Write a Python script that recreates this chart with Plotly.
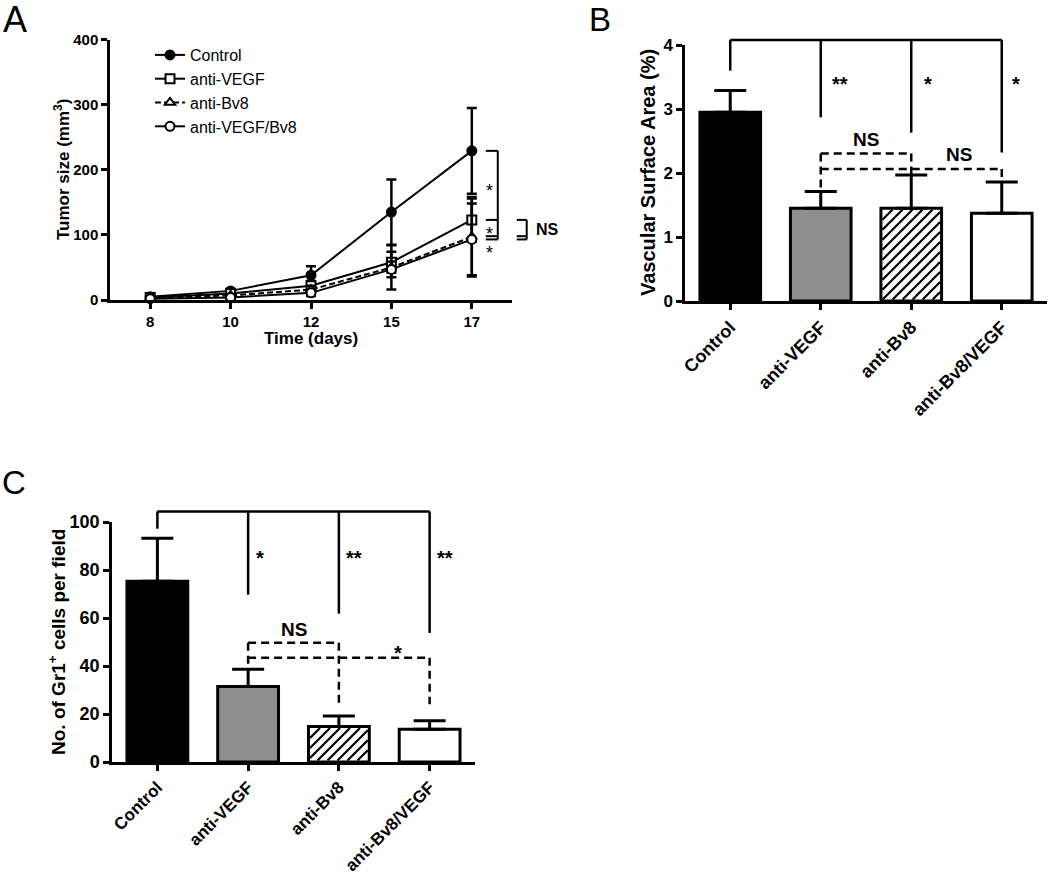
import plotly.graph_objects as go

# ---------------- Data ----------------
# Panel A: tumor growth
days = ["8", "10", "12", "15", "17"]
control_tumor = [5, 14, 38, 135, 229]
control_tumor_err = [2, 3, 14, 50, 66]
vegf_tumor = [4, 10, 22, 58, 123]
vegf_tumor_err = [2, 2, 7, 16, 33]
bv8_tumor = [3, 7, 16, 50, 97]
bv8_tumor_err = [2, 2, 6, 34, 61]
combo_tumor = [2, 4, 11, 47, 93]
combo_tumor_err = [1, 2, 5, 12, 55]
series_names = ["Control", "anti-VEGF", "anti-Bv8", "anti-VEGF/Bv8"]

# Panels B and C: bar groups
groups = ["Control", "anti-VEGF", "anti-Bv8", "anti-Bv8/VEGF"]
vsa_mean = [2.95, 1.45, 1.45, 1.37]
vsa_err = [0.34, 0.26, 0.52, 0.49]
gr1_mean = [75.3, 31.5, 14.8, 13.6]
gr1_err = [17.9, 7.1, 4.4, 3.6]

bar_colors = ["black", "#8e8e8e", "white", "white"]
bar_hatched = [False, False, True, False]
BAR_W = 0.67

FONT = "Arial, 'Liberation Sans', sans-serif"
W, H = 1050, 879


def px_x(p):
    return p / W


def px_y(p):
    return 1 - p / H


# subplot domains in pixels (left, right, top, bottom)
DOM_A = (110, 512, 39.5, 300)
DOM_B = (685, 1047, 45, 301)
DOM_C = (112, 475, 522, 762)

fig = go.Figure()

# ---------------- Panel A ----------------
styles = [
    dict(symbol="circle", color="black", dash="solid"),
    dict(symbol="square", color="white", dash="solid"),
    dict(symbol="triangle-up", color="white", dash="6px,3px"),
    dict(symbol="circle", color="white", dash="solid"),
]
a_vals = [control_tumor, vegf_tumor, bv8_tumor, combo_tumor]
a_errs = [control_tumor_err, vegf_tumor_err, bv8_tumor_err, combo_tumor_err]
for name, vals, errs, st in zip(series_names, a_vals, a_errs, styles):
    fig.add_trace(go.Scatter(
        x=days, y=vals, name=name, mode="lines+markers",
        xaxis="x", yaxis="y", cliponaxis=False,
        line=dict(color="black", width=2, dash=st["dash"]),
        marker=dict(symbol=st["symbol"], size=9, color=st["color"],
                    line=dict(color="black", width=2)),
        error_y=dict(type="data", array=errs, visible=True, color="black",
                     thickness=2.5, width=5),
    ))

# ---------------- Panels B and C ----------------
for vals, errs, xa, ya in [(vsa_mean, vsa_err, "x2", "y2"), (gr1_mean, gr1_err, "x3", "y3")]:
    fig.add_trace(go.Bar(
        x=groups, y=vals, xaxis=xa, yaxis=ya, showlegend=False, width=BAR_W,
        marker=dict(color=bar_colors, line=dict(color="black", width=3)),
        error_y=dict(type="data", array=errs, arrayminus=[0] * 4, symmetric=False,
                     color="black", thickness=3, width=16),
    ))

axis_common = dict(showline=True, linecolor="black", linewidth=2.5, ticks="outside",
                   tickcolor="black", tickwidth=2.5, ticklen=6, showgrid=False,
                   zeroline=False, fixedrange=True, automargin=False)


def dom(d):
    l, r, t, b = d
    return dict(x=[px_x(l), px_x(r)], y=[px_y(b), px_y(t)])


fig.update_layout(
    width=W, height=H, margin=dict(l=0, r=0, t=0, b=0, autoexpand=False),
    paper_bgcolor="white", plot_bgcolor="white",
    font=dict(family=FONT, color="black"),
    xaxis=dict(domain=dom(DOM_A)["x"], anchor="y", type="category",
               range=[-0.5, 4.5], tickfont=dict(size=15, weight="bold"), **axis_common),
    yaxis=dict(domain=dom(DOM_A)["y"], anchor="x", range=[0, 400],
               tickvals=[0, 100, 200, 300, 400], tickfont=dict(size=15, weight="bold"),
               **axis_common),
    xaxis2=dict(domain=dom(DOM_B)["x"], anchor="y2", type="category",
                range=[-0.5, 3.5], tickangle=-45, tickfont=dict(size=18, weight="bold"),
                **axis_common),
    yaxis2=dict(domain=dom(DOM_B)["y"], anchor="x2", range=[0, 4],
                tickvals=[0, 1, 2, 3, 4], tickfont=dict(size=17, weight="bold"),
                **axis_common),
    xaxis3=dict(domain=dom(DOM_C)["x"], anchor="y3", type="category",
                range=[-0.5, 3.5], tickangle=-45, tickfont=dict(size=17, weight="bold"),
                **axis_common),
    yaxis3=dict(domain=dom(DOM_C)["y"], anchor="x3", range=[0, 100],
                tickvals=[0, 20, 40, 60, 80, 100], tickfont=dict(size=18, weight="bold"),
                **axis_common),
    legend=dict(x=px_x(150), y=px_y(38), xanchor="left", yanchor="top",
                font=dict(size=16, family=FONT), bgcolor="rgba(0,0,0,0)",
                tracegroupgap=0, itemwidth=30),
)

shapes = []
annotations = []


def line(xa, ya, n, vmax, x0, y0, x1, y1, dash=None, width=2.5):
    shapes.append(dict(
        type="line", xref=f"{xa} domain", yref=f"{ya} domain",
        x0=(x0 + 0.5) / n, x1=(x1 + 0.5) / n, y0=y0 / vmax, y1=y1 / vmax,
        line=dict(color="black", width=width, dash=dash)))


def text(xa, ya, n, vmax, x, y, s, size, bold=True, xanchor="center", yshift=0):
    annotations.append(dict(
        xref=f"{xa} domain", yref=f"{ya} domain", x=(x + 0.5) / n, y=y / vmax,
        text=s, showarrow=False, xanchor=xanchor, yanchor="middle", yshift=yshift,
        font=dict(size=size, family=FONT, weight="bold" if bold else "normal")))


def hatch(xa, ya, d, n, vmax, i, value, spacing=10, inset=1.5):
    """Diagonal '/' hatching inside bar i (drawn as shapes in domain coords)."""
    l, r, t, b = d
    wpx, hpx = r - l, b - t
    x0 = (i + 0.5 - BAR_W / 2) / n * wpx + inset
    x1 = (i + 0.5 + BAR_W / 2) / n * wpx - inset
    y0 = inset
    y1 = value / vmax * hpx - inset
    c = x0 - y1
    while c < x1 - y0:
        xa_ = max(x0, y0 + c)
        xb_ = min(x1, y1 + c)
        if xb_ > xa_:
            shapes.append(dict(
                type="line", xref=f"{xa} domain", yref=f"{ya} domain", layer="above",
                x0=xa_ / wpx, x1=xb_ / wpx, y0=(xa_ - c) / hpx, y1=(xb_ - c) / hpx,
                line=dict(color="black", width=2.2)))
        c += spacing


for i, h in enumerate(bar_hatched):
    if h:
        hatch("x2", "y2", DOM_B, 4, 4, i, vsa_mean[i])
        hatch("x3", "y3", DOM_C, 4, 100, i, gr1_mean[i])

# Panel A significance brackets
NA, VA = 5, 400
line("x", "y", NA, VA, 4.323, 229, 4.323, 93, width=2)
for yv in [229, 123, 98, 93]:
    line("x", "y", NA, VA, 4.174, yv, 4.323, yv, width=2)
line("x", "y", NA, VA, 4.683, 123, 4.683, 93, width=2)
for yv in [123, 98, 93]:
    line("x", "y", NA, VA, 4.559, yv, 4.683, yv, width=2)
text("x", "y", NA, VA, 4.224, 173, "*", 18, bold=False, yshift=-4)
text("x", "y", NA, VA, 4.224, 107, "*", 18, bold=False, yshift=-4)
text("x", "y", NA, VA, 4.224, 79, "*", 18, bold=False, yshift=-4)
text("x", "y", NA, VA, 4.77, 109, "NS", 16, xanchor="left")

# Panel B significance brackets
NB, VB = 4, 4
line("x2", "y2", NB, VB, 0, 4.08, 3, 4.08)
line("x2", "y2", NB, VB, 0, 4.08, 0, 3.6)
line("x2", "y2", NB, VB, 1, 4.08, 1, 2.87)
line("x2", "y2", NB, VB, 2, 4.08, 2, 2.63)
line("x2", "y2", NB, VB, 3, 4.08, 3, 2.32)
text("x2", "y2", NB, VB, 1.21, 3.47, "**", 20, yshift=-5)
text("x2", "y2", NB, VB, 2.18, 3.47, "*", 20, yshift=-5)
text("x2", "y2", NB, VB, 3.16, 3.47, "*", 20, yshift=-5)
DASH = "8px,5px"
line("x2", "y2", NB, VB, 1, 2.305, 2, 2.305, dash=DASH)
line("x2", "y2", NB, VB, 1, 2.305, 1, 1.72, dash=DASH)
line("x2", "y2", NB, VB, 2, 2.305, 2, 1.98, dash=DASH)
line("x2", "y2", NB, VB, 1, 2.063, 3, 2.063, dash=DASH)
line("x2", "y2", NB, VB, 3, 2.063, 3, 1.87, dash=DASH)
text("x2", "y2", NB, VB, 1.5, 2.52, "NS", 19)
text("x2", "y2", NB, VB, 2.53, 2.29, "NS", 19)

# Panel C significance brackets
NC, VC = 4, 100
line("x3", "y3", NC, VC, 0, 104.4, 3, 104.4)
line("x3", "y3", NC, VC, 0, 104.4, 0, 97.2)
line("x3", "y3", NC, VC, 1, 104.4, 1, 69.7)
line("x3", "y3", NC, VC, 2, 104.4, 2, 61.8)
line("x3", "y3", NC, VC, 3, 104.4, 3, 53.8)
text("x3", "y3", NC, VC, 1.13, 87, "*", 20, yshift=-5)
text("x3", "y3", NC, VC, 2.17, 87, "**", 20, yshift=-5)
text("x3", "y3", NC, VC, 3.17, 87, "**", 20, yshift=-5)
line("x3", "y3", NC, VC, 1, 49.7, 2, 49.7, dash=DASH)
line("x3", "y3", NC, VC, 1, 49.7, 1, 38.6, dash=DASH)
line("x3", "y3", NC, VC, 2, 49.7, 2, 24.1, dash=DASH)
line("x3", "y3", NC, VC, 1, 43.4, 3, 43.4, dash=DASH)
line("x3", "y3", NC, VC, 3, 43.4, 3, 24.1, dash=DASH)
text("x3", "y3", NC, VC, 1.5, 55.2, "NS", 19)
text("x3", "y3", NC, VC, 2.65, 47.3, "*", 20, yshift=-5)


# Axis titles
def paper_text(x, y, s, size, angle=0, bold=True):
    annotations.append(dict(
        xref="paper", yref="paper", x=px_x(x), y=px_y(y), text=s, showarrow=False,
        xanchor="center", yanchor="middle", textangle=angle,
        font=dict(size=size, family=FONT, weight="bold" if bold else "normal")))


paper_text(62, 170, "Tumor size (mm<sup>3</sup>)", 17, angle=-90)
paper_text(311, 338, "Time (days)", 17)
paper_text(648, 173, "Vascular Surface Area (%)", 20, angle=-90)
paper_text(57, 642, "No. of Gr1<sup>+</sup> cells per field", 19, angle=-90)

# Panel letters
paper_text(15, 19, "A", 36, bold=False)
paper_text(600, 19, "B", 33, bold=False)
paper_text(14, 482, "C", 33, bold=False)

fig.update_layout(shapes=shapes, annotations=annotations)
fig.write_html("out.html", config={"displayModeBar": False},
               post_script="document.body.style.margin='0px';")
